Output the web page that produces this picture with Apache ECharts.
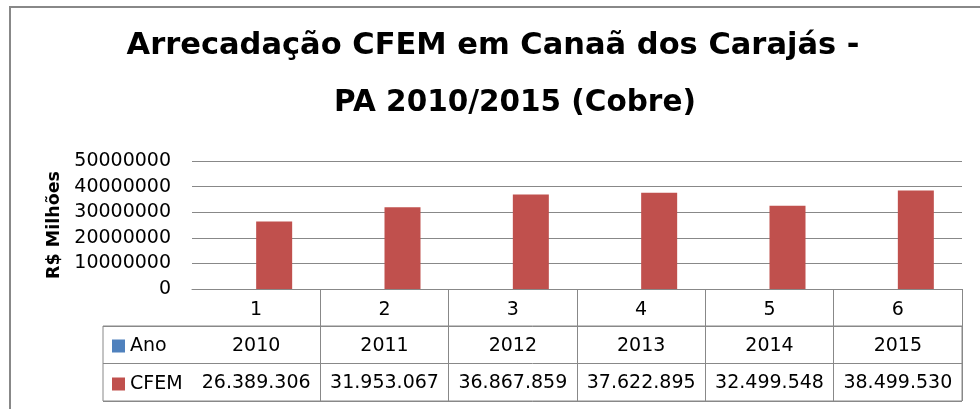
<!DOCTYPE html>
<html>
<head>
<meta charset="utf-8">
<script src="https://cdn.jsdelivr.net/npm/echarts@6/dist/echarts.min.js"></script>
<style>
  html, body { margin: 0; padding: 0; background: #fff; overflow: hidden; }
  #frame { position: absolute; left: 9px; top: 6px; width: 1000px; height: 500px; border: 2px solid #888; }
  #chart { position: absolute; left: 0; top: 0; width: 980px; height: 409px; }
</style>
</head>
<body>
<div id="frame"></div>
<div id="chart"></div>
<script>
// chart data
var categories = ['1', '2', '3', '4', '5', '6']
var ano = [2010, 2011, 2012, 2013, 2014, 2015]
var cfem = [26389306, 31953067, 36867859, 37622895, 32499548, 38499530]
var yMax = 50000000
var yStep = 10000000

var FONT = 'DejaVu Sans'
var LINE = '#888888'

// 26389306 -> 26.389.306
function fmtBR(v) {
  return String(v).replace(/\B(?=(\d{3})+(?!\d))/g, '.')
}

var chart = echarts.init(document.getElementById('chart'))

chart.setOption({
  animation: false,
  textStyle: { fontFamily: FONT, color: '#000' },
  title: [
    {
      text: 'Arrecadação CFEM em Canaã dos Carajás -',
      left: 493,
      top: 31,
      textAlign: 'center',
      padding: 0,
      textStyle: { fontFamily: FONT, fontSize: 30.5, fontWeight: 'bold', color: '#000' }
    },
    {
      text: 'PA 2010/2015 (Cobre)',
      left: 515,
      top: 88,
      textAlign: 'center',
      padding: 0,
      textStyle: { fontFamily: FONT, fontSize: 29.5, fontWeight: 'bold', color: '#000' }
    }
  ],
  legend: {
    data: ['Ano', 'CFEM'],
    orient: 'vertical',
    left: 112,
    top: 336,
    padding: 0,
    itemWidth: 13,
    itemHeight: 13,
    itemGap: 18,
    icon: 'rect',
    textStyle: { fontFamily: FONT, fontSize: 19, lineHeight: 20, color: '#000' }
  },
  grid: [
    { left: 192, right: 18, top: 161, bottom: 120 },
    {
      left: 103, right: 18, top: 326, height: 75,
      show: true, borderColor: LINE, borderWidth: 1, backgroundColor: 'transparent'
    }
  ],
  xAxis: [
    {
      type: 'category',
      gridIndex: 0,
      data: categories,
      axisLine: { lineStyle: { color: LINE, width: 1 } },
      axisTick: {
        show: true,
        length: 112,
        interval: function (i) { return i > 0 },
        lineStyle: { color: LINE, width: 1 }
      },
      axisLabel: { interval: 0, fontSize: 19, margin: 12, color: '#000' }
    },
    {
      type: 'category',
      gridIndex: 0,
      position: 'bottom',
      offset: 37,
      data: ano.map(String),
      axisLine: { show: false },
      axisTick: { show: false },
      axisLabel: { interval: 0, fontSize: 19, margin: 11, color: '#000' }
    },
    {
      type: 'category',
      gridIndex: 0,
      position: 'bottom',
      offset: 75,
      data: cfem.map(fmtBR),
      axisLine: { show: false },
      axisTick: { show: false },
      axisLabel: { interval: 0, fontSize: 19, margin: 10, color: '#000' }
    },
    { type: 'value', gridIndex: 1, show: false }
  ],
  yAxis: [
    {
      type: 'value',
      gridIndex: 0,
      min: 0,
      max: yMax,
      interval: yStep,
      name: 'R$ Milhões',
      nameLocation: 'middle',
      nameRotate: 90,
      nameGap: 128,
      nameTextStyle: { fontFamily: FONT, fontSize: 17.5, fontWeight: 'bold', color: '#000' },
      axisLine: { show: false },
      axisTick: { show: false },
      axisLabel: {
        fontSize: 19,
        margin: 21,
        color: '#000',
        formatter: function (v) { return String(v) }
      },
      splitLine: { lineStyle: { color: LINE, width: 1 } }
    },
    {
      type: 'category',
      gridIndex: 1,
      data: ['Ano', 'CFEM'],
      axisLine: { show: false },
      axisTick: { show: false },
      axisLabel: { show: false },
      splitLine: { show: true, lineStyle: { color: LINE, width: 1 } }
    }
  ],
  series: [
    {
      name: 'Ano',
      type: 'bar',
      xAxisIndex: 0,
      yAxisIndex: 0,
      data: ano,
      barWidth: 36,
      barGap: '0%',
      itemStyle: { color: '#4F81BD' }
    },
    {
      name: 'CFEM',
      type: 'bar',
      xAxisIndex: 0,
      yAxisIndex: 0,
      data: cfem,
      barWidth: 36,
      barGap: '0%',
      itemStyle: { color: '#C0504D' }
    }
  ]
})
</script>
</body>
</html>
